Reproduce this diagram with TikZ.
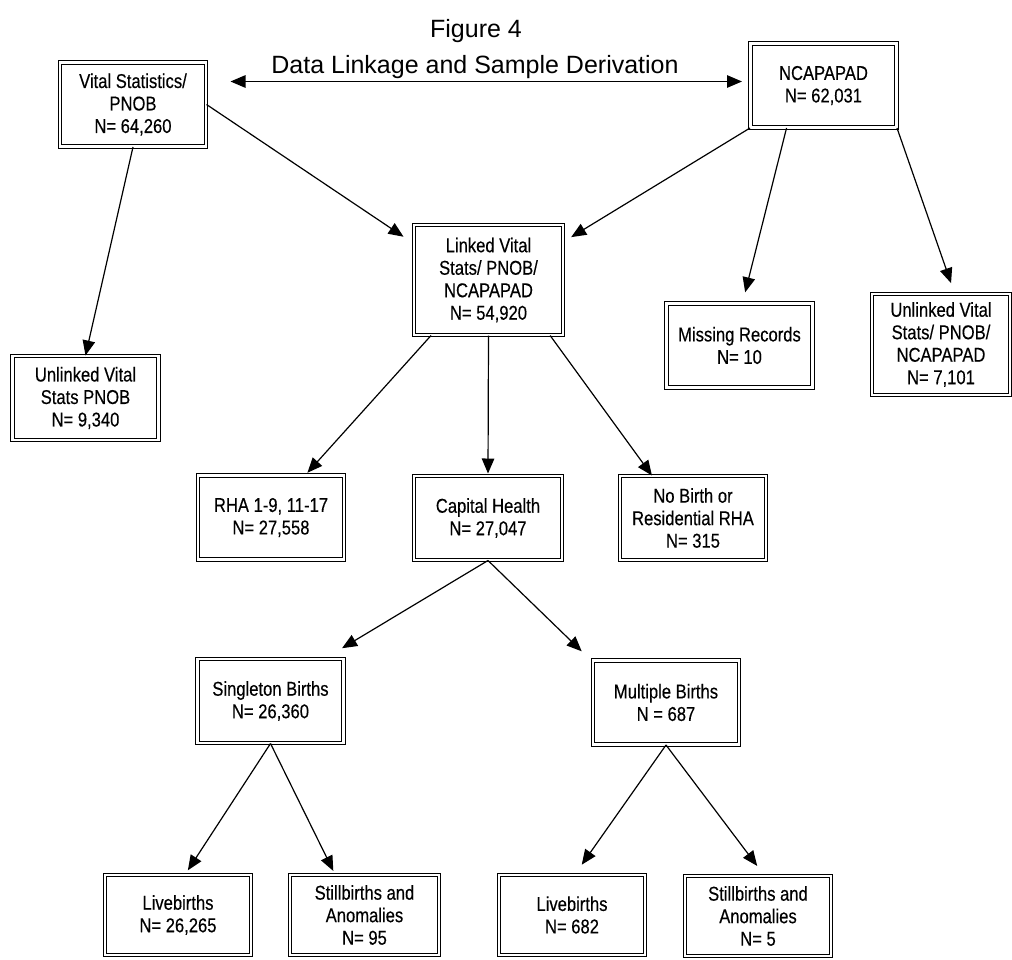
\documentclass[tikz,border=0pt]{standalone}
\usepackage{fontspec}
\setmainfont{Liberation Sans}
\newfontfamily\boxfont[FakeStretch=0.83, FakeBold=0.3]{Liberation Sans}
\usetikzlibrary{arrows.meta}

\tikzset{
    box/.style={draw, double, double distance=2.4pt, line width=1pt, align=center,
        minimum width=146pt, minimum height=84pt, inner sep=2pt,
        font=\boxfont\fontsize{20}{22.5}\selectfont},
    link/.style={-{Triangle[length=15pt,width=12.5pt]}, line width=1.2pt},
    both/.style={{Triangle[length=15pt,width=12.5pt]}-{Triangle[length=15pt,width=12.5pt]}, line width=1.2pt},
    heading/.style={font=\fontsize{25}{30}\selectfont, anchor=base}
}

\begin{document}
\begin{tikzpicture}[x=1pt, y=-1pt]
    \useasboundingbox (0,0) rectangle (1012,959);

    \node[heading] (fig) at (476,37) {Figure 4};
    \node[heading] (figname) at (475,73) {Data Linkage and Sample Derivation};

    % sources
    \node[box] (vital) at (133,104.5) {Vital Statistics/\\ PNOB\\ N= 64,260};
    \node[box] (ncap) at (823.5,85.5) {NCAPAPAD\\ N= 62,031};
    \node[box, minimum width=149pt, minimum height=110pt] (linked) at (488.5,280) {Linked Vital\\ Stats/ PNOB/\\ NCAPAPAD\\ N= 54,920};

    \node[box] (unlinkedA) at (85.5,398) {Unlinked Vital\\ Stats PNOB\\ N= 9,340};
    \node[box] (missing) at (739.5,345.5) {Missing Records\\ N= 10};
    \node[box, minimum width=138pt, minimum height=101pt] (unlinkedB) at (941,344.5) {Unlinked Vital\\ Stats/ PNOB/\\ NCAPAPAD\\ N= 7,101};

    % regions
    \node[box] (rha) at (271,517.5) {RHA 1-9, 11-17\\ N= 27,558};
    \node[box, minimum width=148pt] (capital) at (488,518) {Capital Health\\ N= 27,047};
    \node[box] (nobirth) at (693,518) {No Birth or\\ Residential RHA\\ N= 315};

    \node[box] (single) at (270.5,701) {Singleton Births\\ N= 26,360};
    \node[box] (multi) at (666,702.5) {Multiple Births\\ N = 687};

    % outcomes
    \node[box, minimum height=80pt] (live1) at (178,915) {Livebirths\\ N= 26,265};
    \node[box, minimum width=149pt, minimum height=80pt] (still1) at (364.5,915) {Stillbirths and\\ Anomalies\\ N= 95};
    \node[box, minimum height=80pt] (live2) at (572,915) {Livebirths\\ N= 682};
    \node[box, minimum height=80pt] (still2) at (758,916) {Stillbirths and\\ Anomalies\\ N= 5};

    \draw[both, shorten <=24pt, shorten >=8pt] ([yshift=4pt]vital.east |- ncap.west) -- ([yshift=4pt]ncap.west);

    \draw[link] (vital.south) -- (unlinkedA.north);
    \draw[link, shorten >=12pt] (vital.east) -- (linked.154);
    \draw[link, shorten >=9pt] (ncap.south west) -- (linked.27);
    \draw[link, shorten >=11pt] (ncap.229) -- (missing.86);
    \draw[link, shorten >=11pt] (ncap.south east) -- (unlinkedB.75);

    \draw[link, shorten >=3pt] (linked.224) -- (rha.51);
    \draw[link, shorten >=2pt] (linked.south) -- (capital.north);
    \draw[link] (linked.318) -- (nobirth.134);

    \draw[link, shorten >=20pt] (capital.south) -- (single.38);
    \draw[link, shorten >=15pt] (capital.south) -- (multi.151);

    \draw[link, shorten >=5pt] (single.south) -- (live1.80);
    \draw[link, shorten >=4pt] (single.south) -- (still1.126);
    \draw[link, shorten >=12pt] (multi.south) -- (live2.86);
    \draw[link, shorten >=12pt] (multi.south) -- (still2.81);
\end{tikzpicture}
\end{document}
